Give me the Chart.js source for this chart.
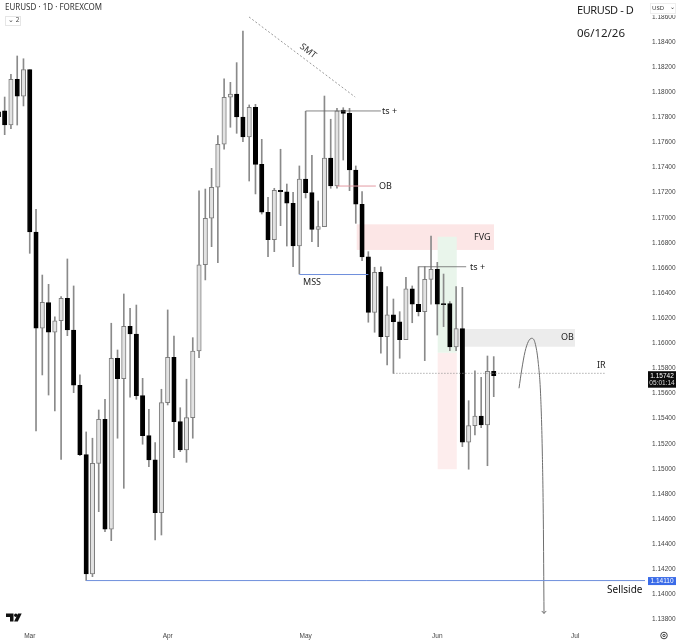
<!DOCTYPE html>
<html>
<head>
<meta charset="utf-8">
<title>EURUSD - D</title>
<script src="https://cdn.jsdelivr.net/npm/chart.js@4"></script>
<style>
  html, body { margin: 0; padding: 0; background: #fff; }
  #wrap { width: 680px; height: 642px; }
</style>
</head>
<body>
<div id="wrap"><canvas id="eurusd"></canvas></div>
<script>
// daily candles, index 0 is the cut off one at the left edge
const opens = [1.17845,1.17853,1.17739,1.18103,1.17968,1.18180,1.16887,1.16120,1.16324,1.16088,
  1.16180,1.16359,1.16106,1.15666,1.15113,1.14163,1.15044,1.15395,1.14519,1.15881,
  1.15718,1.16136,1.16074,1.15583,1.15264,1.15071,1.14651,1.15527,1.15889,1.15376,
  1.15150,1.15408,1.15939,1.16626,1.16996,1.17243,1.17586,1.17960,1.17986,1.17803,
  1.17644,1.17880,1.17426,1.17044,1.16826,1.17219,1.17206,1.17116,1.16775,1.17309,
  1.17200,1.16908,1.16929,1.17476,1.17253,1.17859,1.17832,1.17381,1.17108,1.16688,
  1.16247,1.16566,1.16053,1.16226,1.16172,1.16029,1.16435,1.16311,1.16252,1.16510,
  1.16590,1.16316,1.16316,1.15971,1.16117,1.15212,1.15344,1.15421,1.15349,1.15777];
const highs = [1.17875,1.17962,1.18143,1.18289,1.18267,1.18180,1.17068,1.16544,1.16470,1.16212,
  1.16372,1.16672,1.16457,1.15748,1.15294,1.15244,1.15469,1.15554,1.16160,1.15947,
  1.16393,1.16279,1.16305,1.15721,1.15475,1.15209,1.15634,1.16266,1.16058,1.15487,
  1.15714,1.16045,1.17214,1.17229,1.17394,1.17654,1.18108,1.18079,1.18236,1.18488,
  1.17899,1.17904,1.17625,1.17163,1.17235,1.17546,1.17269,1.17203,1.17413,1.17848,
  1.17498,1.17134,1.17970,1.17785,1.17872,1.17877,1.17872,1.17413,1.17208,1.16730,
  1.16606,1.16610,1.16451,1.16353,1.16252,1.16526,1.16457,1.16610,1.16610,1.16855,
  1.16645,1.16552,1.16332,1.16451,1.16446,1.15543,1.15780,1.15729,1.15899,1.15894];
const lows = [1.17763,1.17662,1.17710,1.17739,1.17891,1.16717,1.15302,1.15748,1.15588,1.15461,
  1.15076,1.16061,1.15607,1.15105,1.14110,1.14141,1.14659,1.14500,1.14428,1.15244,
  1.14845,1.15570,1.15554,1.15196,1.15017,1.14433,1.14473,1.15509,1.15089,1.15137,
  1.15052,1.15244,1.15886,1.16505,1.16770,1.16642,1.17546,1.17721,1.17673,1.17606,
  1.17293,1.17190,1.17030,1.16690,1.16730,1.16937,1.16775,1.16610,1.16552,1.17158,
  1.16810,1.16770,1.16929,1.17235,1.17235,1.17460,1.17216,1.16956,1.16658,1.16168,
  1.16088,1.15921,1.15827,1.15761,1.15881,1.16029,1.16164,1.16218,1.15862,1.16311,
  1.16066,1.16133,1.15941,1.15941,1.15177,1.14997,1.15270,1.15328,1.15025,1.15575];
const closes = [1.17805,1.17739,1.18103,1.17968,1.18180,1.16887,1.16120,1.16327,1.16088,1.16180,
  1.16359,1.16106,1.15666,1.15113,1.14163,1.15044,1.15395,1.14519,1.15881,1.15718,
  1.16136,1.16074,1.15583,1.15264,1.15071,1.14651,1.15527,1.15889,1.15376,1.15150,
  1.15408,1.15939,1.16626,1.16996,1.17243,1.17586,1.17960,1.17986,1.17803,1.17644,
  1.17880,1.17426,1.17044,1.16826,1.17219,1.17208,1.17116,1.16775,1.17309,1.17200,
  1.16908,1.16929,1.17476,1.17253,1.17853,1.17832,1.17381,1.17108,1.16688,1.16247,
  1.16566,1.16053,1.16226,1.16172,1.16029,1.16435,1.16311,1.16252,1.16510,1.16590,
  1.16311,1.16308,1.15971,1.16117,1.15212,1.15344,1.15421,1.15349,1.15777,1.15742];

const monthTicks = [5, 27, 49, 70, 92];
const monthLabels = ["Mar", "Apr", "May", "Jun", "Jul"];
const priceMin = 1.13756;
const priceMax = 1.18735;
const lastPrice = 1.15742;
const sellsidePrice = 1.14110;

// drawing tools, x is candle index, y is price
const smtX = [39.97, 56.9];
const smtY = [1.18600, 1.17962];
const ts1X = [49, 61];
const ts1Y = [1.17851, 1.17851];
const obLineX = [54, 60.2];
const obLineY = [1.17253, 1.17253];
const mssX = [48, 59];
const mssY = [1.16548, 1.16548];
const ts2X = [67, 74.6];
const ts2Y = [1.16610, 1.16610];
const irX = [63, 96.9];
const irY = [1.15761, 1.15761];
const sellsideX = [14, 104];
const sellsideY = [sellsidePrice, sellsidePrice];
const curveX = [83.03, 83.46, 83.99, 84.51, 85.05, 85.58, 86.11, 86.49, 86.75, 86.91, 87.02];
const curveY = [1.15642, 1.15788, 1.15933, 1.16013, 1.16040, 1.16005, 1.15841, 1.15575, 1.15126, 1.14593, 1.13848];
const headX = [86.65, 87.02, 87.38];
const headY = [1.13868, 1.13848, 1.13868];

// x0, x1, top, bottom
const fvgZone = [57.15, 79.04, 1.16948, 1.16744];
const greenZone = [70.06, 73.1, 1.16849, 1.15925];
const redZone = [70.06, 73.1, 1.15925, 1.14997];
const obZone = [73.1, 91.96, 1.16114, 1.15973];

const points = (xs, ys) => xs.map((x, i) => ({ x: x, y: ys[i] }));

function toolLine(xs, ys, color, extra) {
  return Object.assign({
    type: "line",
    data: points(xs, ys),
    borderColor: color,
    borderWidth: 1,
    pointRadius: 0,
    fill: false,
    order: 0,
  }, extra || {});
}

const isUp = (i) => closes[i] >= opens[i];

const zonesPlugin = {
  id: "zones",
  beforeDatasetsDraw(chart) {
    const { ctx, scales } = chart;
    const box = (z, color) => {
      const x0 = scales.x.getPixelForValue(z[0]);
      const x1 = scales.x.getPixelForValue(z[1]);
      const y0 = scales.y.getPixelForValue(z[2]);
      const y1 = scales.y.getPixelForValue(z[3]);
      ctx.fillStyle = color;
      ctx.fillRect(x0, y0, x1 - x0, y1 - y0);
    };
    box(fvgZone, "#fce6e6");
    box(redZone, "#fdeded");
    box(greenZone, "#e9f5eb");
    box(obZone, "#ececec");
  },
};

const textPlugin = {
  id: "texts",
  afterDraw(chart) {
    const { ctx, scales } = chart;
    const label = (text, x, y, font, color, align) => {
      ctx.font = font;
      ctx.fillStyle = color || "#222";
      ctx.textAlign = align || "left";
      ctx.textBaseline = "middle";
      ctx.fillText(text, x, y);
    };
    const note = '9px "Noto Sans"';

    // header
    label("EURUSD · 1D · FOREXCOM", 5, 8, '8px "Noto Sans"', "#333");
    ctx.strokeStyle = "#e6e6e6";
    ctx.lineWidth = 1;
    ctx.strokeRect(5.5, 16.5, 15, 9);
    label("⌄ 2", 8, 20, '6.5px "Noto Sans"', "#444");

    // annotations
    ctx.save();
    ctx.translate(308, 51);
    ctx.rotate(0.66);
    label("SMT", 0, 0, note, "#333", "center");
    ctx.restore();
    label("ts +", 382, 111, note);
    label("OB", 379, 186, note);
    label("FVG", 474, 237, note);
    label("MSS", 303, 282.5, note);
    label("ts +", 470, 267, note);
    label("OB", 561, 337.5, note);
    label("IR", 597, 365.5, note);
    label("Sellside", 607, 590, '10px "Noto Sans"', "#111");
    ctx.letterSpacing = "-0.4px";
    label("EURUSD - D", 577, 11, '11px "Noto Sans"', "#222");
    ctx.letterSpacing = "0px";
    label("06/12/26", 577, 34, '11.5px "Noto Sans"', "#222");

    // USD button over the axis
    ctx.fillStyle = "#fff";
    ctx.fillRect(647, 0, 33, 15);
    ctx.strokeStyle = "#eee";
    ctx.strokeRect(650.5, 3.5, 25, 10);
    label("USD", 652, 8, '6px "Noto Sans"', "#333");
    label("⌄", 672, 7, '6px "Noto Sans"', "#333", "center");

    // price tags
    const lastY = scales.y.getPixelForValue(lastPrice);
    ctx.fillStyle = "#0b0b0b";
    ctx.fillRect(648, lastY - 4.5, 28, 16.5);
    label(lastPrice.toFixed(5), 662, lastY + 0.5, '6.5px "Liberation Sans"', "#fff", "center");
    label("05:01:14", 662, lastY + 7.5, '6.5px "Liberation Sans"', "#ddd", "center");
    const sellY = scales.y.getPixelForValue(sellsidePrice);
    ctx.fillStyle = "#3a6be8";
    ctx.fillRect(648, sellY - 3.5, 28, 8);
    label(sellsidePrice.toFixed(5), 662, sellY + 0.5, '6.5px "Liberation Sans"', "#fff", "center");

    // TradingView mark
    ctx.fillStyle = "#111";
    ctx.beginPath();
    ctx.moveTo(6, 613.5);
    ctx.lineTo(13.5, 613.5);
    ctx.lineTo(13.5, 621.5);
    ctx.lineTo(10, 621.5);
    ctx.lineTo(10, 617);
    ctx.lineTo(6, 617);
    ctx.closePath();
    ctx.fill();
    ctx.beginPath();
    ctx.arc(15.8, 615.3, 1.7, 0, Math.PI * 2);
    ctx.fill();
    ctx.beginPath();
    ctx.moveTo(18, 613.5);
    ctx.lineTo(21.7, 613.5);
    ctx.lineTo(17.8, 621.5);
    ctx.lineTo(14.1, 621.5);
    ctx.closePath();
    ctx.fill();

    // settings icon
    ctx.strokeStyle = "#444";
    ctx.beginPath();
    ctx.arc(664, 635.5, 3.3, 0, Math.PI * 2);
    ctx.stroke();
    ctx.beginPath();
    ctx.arc(664, 635.5, 1.2, 0, Math.PI * 2);
    ctx.stroke();
  },
};

new Chart(document.getElementById("eurusd"), {
  type: "bar",
  data: {
    datasets: [
      toolLine(smtX, smtY, "#9a9a9a", { borderDash: [2, 2] }),
      toolLine(ts1X, ts1Y, "#666", { borderWidth: 0.8 }),
      toolLine(obLineX, obLineY, "#e39aa4"),
      toolLine(mssX, mssY, "#6e8fdc"),
      toolLine(ts2X, ts2Y, "#666", { borderWidth: 0.8 }),
      toolLine(irX, irY, "#8a8a8a", { borderDash: [1, 2] }),
      toolLine(sellsideX, sellsideY, "#6e8fdc"),
      toolLine(curveX, curveY, "#6e6e6e", { tension: 0.4, cubicInterpolationMode: "monotone" }),
      toolLine(headX, headY, "#6e6e6e"),
      {
        // bodies
        data: opens.map((o, i) => ({ x: i, y: [o, closes[i]] })),
        barThickness: 4.4,
        grouped: false,
        backgroundColor: (c) => (isUp(c.dataIndex) ? "#e2e2e2" : "#000"),
        borderColor: (c) => (isUp(c.dataIndex) ? "#7d7d7d" : "#000"),
        borderWidth: 1,
        borderSkipped: false,
        order: 1,
      },
      {
        // wicks
        data: lows.map((l, i) => ({ x: i, y: [l, highs[i]] })),
        barThickness: 1,
        grouped: false,
        backgroundColor: "#8a8a8a",
        order: 2,
      },
    ],
  },
  options: {
    responsive: true,
    maintainAspectRatio: false,
    animation: false,
    layout: { padding: 0 },
    plugins: { legend: { display: false }, tooltip: { enabled: false } },
    scales: {
      x: {
        type: "linear",
        offset: false,
        min: 0.255,
        max: 103.126,
        grid: { display: false, drawTicks: false },
        border: { display: false },
        afterBuildTicks: (axis) => {
          axis.ticks = monthTicks.map((v) => ({ value: v }));
        },
        afterFit: (axis) => {
          axis.height = 17;
          axis.paddingLeft = 0;
          axis.paddingRight = 0;
        },
        ticks: {
          autoSkip: false,
          maxRotation: 0,
          padding: 7,
          font: { family: "Liberation Sans", size: 6.5 },
          color: "#444",
          callback: (v) => monthLabels[monthTicks.indexOf(v)],
        },
      },
      y: {
        position: "right",
        min: priceMin,
        max: priceMax,
        grid: { display: false, drawTicks: false },
        border: { display: false },
        afterBuildTicks: (axis) => {
          const out = [];
          for (let p = 1.138; p < 1.1865; p += 0.002) out.push({ value: p });
          axis.ticks = out;
        },
        afterFit: (axis) => {
          axis.width = 35;
          axis.paddingTop = 0;
          axis.paddingBottom = 0;
        },
        ticks: {
          padding: 7,
          font: { family: "Liberation Sans", size: 6.5 },
          color: "#444",
          callback: (v) => v.toFixed(5),
        },
      },
    },
  },
  plugins: [zonesPlugin, textPlugin],
});
</script>
</body>
</html>
